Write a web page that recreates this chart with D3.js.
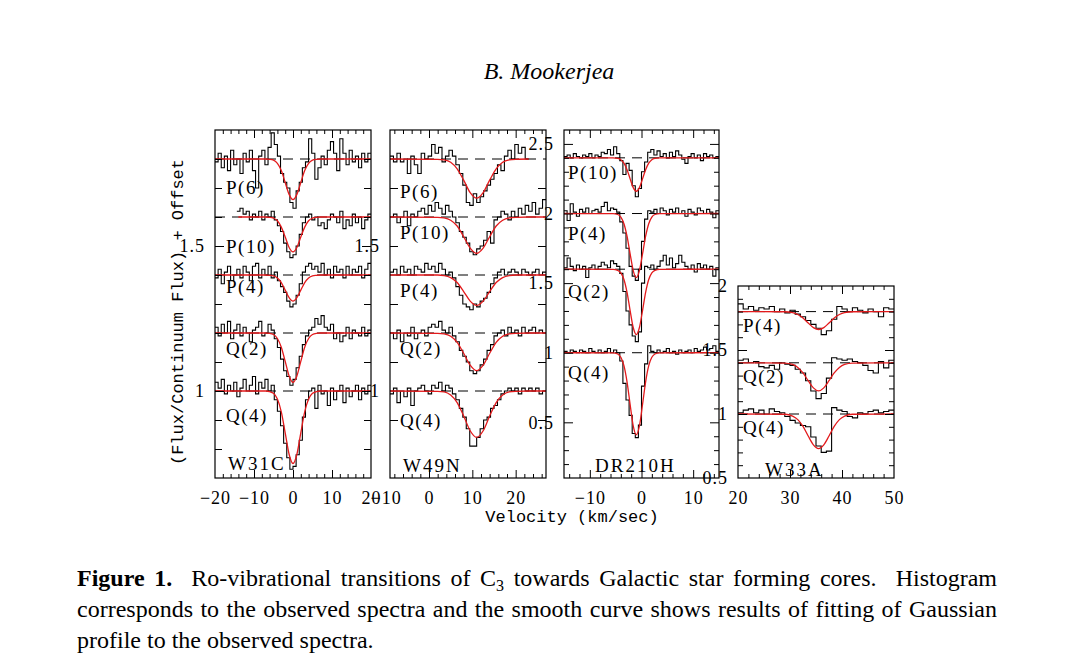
<!DOCTYPE html>
<html>
<head>
<meta charset="utf-8">
<script src="https://cdn.jsdelivr.net/npm/d3@7/dist/d3.min.js"></script>
<style>
  body { margin: 0; background: #fff; }
  svg { display: block; }
</style>
</head>
<body>
<div class="figure"></div>
<script>
// ---- data (spectra in hundredths of flux relative to each offset line) ----
const panelNames = ["W31C", "W49N", "DR210H", "W33A"];

const w31cLines = ["P(6)", "P(10)", "P(4)", "Q(2)", "Q(4)"];
const w31cOffset = [1.8, 1.6, 1.4, 1.2, 1.0];
const w31cVel0 = -20, w31cDv = 0.8;
const w31cSpec = [
    [-1,2,-3,1,-4,3,-2,0,-5,2, -1,3,-4,-10,1,3,-2,4,9,5, 1,-5,-8,-10,-15,-17,-11,-8,-3,-1, 7,2,-7,-3,1,-2,3,6,2,-4, 7,2,-2,3,-1,1,-3,2,-1,2],
    [null,null,null,null,null,null,null,2,3,1, 2,-1,1,0,2,-1,1,0,2,-1, -3,-5,-9,-12,-14,-13,-10,-6,-2,0, 1,-1,0,-3,-2,-4,-1,1,0,-2, 2,-4,-1,-3,1,-2,0,-4,-1,1],
    [-1,2,-3,1,3,-2,0,2,-1,3, 1,-2,3,4,-1,2,0,3,-1,1, -2,-4,-6,-9,-11,-10,-7,-3,1,3, 4,2,3,1,4,0,2,-1,3,1, 2,-1,3,0,2,1,3,-1,2,4],
    [2,-1,3,0,4,-2,1,3,-1,2, 0,-3,1,2,4,-1,0,3,1,-2, -5,-9,-13,-15,-18,-16,-12,-8,-4,-1, 1,2,5,3,6,2,1,3,-2,0, -3,-1,2,-2,1,0,-1,2,-1,1],
    [3,1,4,-1,2,0,3,-2,1,4, 0,2,5,-1,3,1,4,0,2,-3, -7,-12,-18,-23,-27,-26,-22,-17,-9,-3, 0,1,-6,2,-1,0,-5,1,-3,0, 2,-4,1,-2,0,2,-3,1,-1,2]
];
const w31cFitVel = [-20,-14,-7,-6,-5,-4,-3,-2,-1,0,1,2,3,4,5,6,7,20];
const w31cFit = [
    [0,0,0,-0.1,-0.4,-1.5,-4.0,-8.1,-12.2,-14,-12.2,-8.1,-4.0,-1.5,-0.4,-0.1,0,0],
    [null,0,0,-0.1,-0.4,-1.3,-3.5,-6.9,-10.5,-12,-10.5,-6.9,-3.5,-1.3,-0.4,-0.1,0,0],
    [0,0,0,-0.1,-0.3,-1.0,-2.6,-5.2,-7.8,-9,-7.8,-5.2,-2.6,-1.0,-0.3,-0.1,0,0],
    [0,0,0,-0.1,-0.5,-1.9,-4.9,-9.8,-14.8,-17,-14.8,-9.8,-4.9,-1.9,-0.5,-0.1,0,0],
    [0,0,0,-0.2,-0.8,-2.8,-7.2,-14.4,-21.8,-25,-21.8,-14.4,-7.2,-2.8,-0.8,-0.2,0,0]
];
const w31cXLabels = [-20, -10, 0, 10, 20];
const w31cYLabels = [1, 1.5];

const w49nLines = ["P(6)", "P(10)", "P(4)", "Q(2)", "Q(4)"];
const w49nOffset = [1.8, 1.6, 1.4, 1.2, 1.0];
const w49nVel0 = -9, w49nDv = 0.8;
const w49nSpec = [
    [1,-1,2,-1,0,-5,1,-2,-5,2, 0,1,5,2,4,-1,1,3,1,-2, -5,-9,-15,-16,-12,-15,-13,-11,-9,-7, -5,-2,-4,1,3,0,5,2,4,0, null,null,null,null,null],
    [0,1,-2,0,2,-3,1,0,2,3, 1,4,2,5,3,1,4,2,0,-2, -5,-7,-9,-12,-13,-11,-10,-8,-5,-9, -1,0,2,1,-1,2,0,3,1,4, 2,5,1,3,6],
    [1,2,0,3,1,2,0,3,2,1, 4,2,3,1,4,2,0,1,-1,-4, -7,-10,-11,-12,-10,-11,-9,-8,-6,-3, -1,1,2,0,1,2,1,0,2,1, 0,1,2,0,1],
    [0,-2,1,-3,0,-1,2,-2,0,1, -1,2,3,2,4,1,0,2,-1,-3, -6,-8,-10,-13,-14,-13,-11,-9,-6,-4, -1,0,1,-1,2,0,1,-1,2,0, 1,2,0,1,0],
    [-1,1,-4,0,-2,1,-5,0,1,2, 0,-1,2,1,3,0,2,1,-1,-3, -6,-9,-13,-19,-19,-16,-13,-10,-9,-6, -5,-3,-1,0,1,0,1,-1,1,0, 1,0,1,-1,0]
];
const w49nFitVel = [-9,2,3.5,5,6.5,8,9.5,11,12.5,14,15.5,17,18.5,20,23,27];
const w49nFit = [
    [0,-0.1,-0.3,-1.1,-3.4,-7.3,-11.6,-13.5,-11.6,-7.3,-3.4,-1.1,-0.3,-0.1,0,null],
    [0,-0.1,-0.3,-1.1,-3.1,-6.8,-10.7,-12.5,-10.7,-6.8,-3.1,-1.1,-0.3,-0.1,0,0],
    [0,0,-0.2,-0.9,-2.6,-5.7,-9.0,-10.5,-9.0,-5.7,-2.6,-0.9,-0.2,0,0,0],
    [0,-0.1,-0.3,-1.1,-3.2,-7.0,-11.1,-13,-11.1,-7.0,-3.2,-1.1,-0.3,-0.1,0,0],
    [0,-0.1,-0.3,-1.4,-4.0,-8.6,-13.7,-16,-13.7,-8.6,-4.0,-1.4,-0.3,-0.1,0,0]
];
const w49nXLabels = [-10, 0, 10, 20];
const w49nYLabels = [1, 1.5];

const dr210hLines = ["P(10)", "P(4)", "Q(2)", "Q(4)"];
const dr210hOffset = [2.4, 2.0, 1.6, 1.0];
const dr210hVel0 = -15, dr210hDv = 0.6;
const dr210hSpec = [
    [1,2,0,3,1,0,2,1,3,0, 2,1,4,3,6,2,8,3,-2,-12, -4,-9,-20,-28,-22,-10,-3,4,6,2, 5,1,3,0,4,1,5,2,-1,-4, 1,3,0,2,-2,3,1,2,0,1],
    [2,-5,7,1,-2,3,1,4,0,2, 3,1,5,8,2,4,3,1,-6,-14, -25,-38,-45,-48,-40,-20,-4,2,1,3, 0,4,2,-1,3,1,4,0,2,-2, 3,1,-1,4,2,0,3,1,-3,2],
    [1,8,2,-1,3,0,2,-6,1,3, 0,2,5,3,1,6,4,2,-3,-16, -30,-40,-48,-52,-45,-10,2,1,3,0, 2,6,10,3,8,1,4,10,5,2, 0,3,-2,4,1,3,0,2,-5,1],
    [1,0,2,1,0,2,1,0,3,1, 0,2,0,1,3,0,2,0,-6,-22, -34,-45,-58,-61,-52,-24,-8,5,1,0, 2,0,1,3,0,1,-1,2,0,1, 2,0,3,1,2,4,2,3,5,1]
];
const dr210hFitVel = [-15,-5.5,-4.6,-4,-3.4,-2.8,-2.2,-1.6,-1,-0.4,0.2,0.8,1.4,2,2.6,3.5,15];
const dr210hFit = [
    [0,0,-0.4,-1.3,-3.8,-8.5,-15.1,-21.4,-24,-21.4,-15.1,-8.5,-3.8,-1.3,-0.4,0,0],
    [0,-0.1,-0.7,-2.6,-7.3,-16.3,-29.0,-41.0,-46,-41.0,-29.0,-16.3,-7.3,-2.6,-0.7,-0.1,0],
    [0,-0.1,-0.8,-2.6,-7.4,-16.6,-29.7,-41.9,-47,-41.9,-29.7,-16.6,-7.4,-2.6,-0.8,-0.1,0],
    [0,-0.1,-0.9,-3.3,-9.3,-20.9,-37.2,-52.6,-59,-52.6,-37.2,-20.9,-9.3,-3.3,-0.9,-0.1,0]
];
const dr210hXLabels = [-10, 0, 10];
const dr210hYLabels = [0.5, 1, 1.5, 2, 2.5];

const w33aLines = ["P(4)", "Q(2)", "Q(4)"];
const w33aOffset = [1.8, 1.4, 1.0];
const w33aVel0 = 20, w33aDv = 1.0;
const w33aSpec = [
    [6,2,4,1,3,2,4,0,2,-1, 1,-2,-4,-7,-10,-13,-18,-15,-6,4, 2,0,3,1,-1,2,0,-4,3,2],
    [2,3,0,1,-3,-4,-2,-5,0,-1, -2,-5,-8,-14,-22,-28,-24,-12,4,3, 2,3,1,0,-2,-6,-8,1,-4,2],
    [1,3,4,1,3,0,4,2,1,-2, -5,-7,-9,-10,-18,-25,-30,-29,5,3, 2,-2,-3,1,0,2,3,1,2,3]
];
const w33aFitVel = [20,29,30.5,31.5,32.5,33.5,34.5,35.5,36.5,37.5,38.5,39.5,40.5,42,50];
const w33aFit = [
    [0,-0.1,-0.8,-2.3,-5.0,-8.9,-12.5,-14,-12.5,-8.9,-5.0,-2.3,-0.8,-0.1,0],
    [0,-0.2,-1.3,-3.6,-7.9,-14.0,-19.6,-22,-19.6,-14.0,-7.9,-3.6,-1.3,-0.2,0],
    [0,-0.2,-1.6,-4.4,-9.7,-17.2,-24.1,-27,-24.1,-17.2,-9.7,-4.4,-1.6,-0.2,0]
];
const w33aXLabels = [20, 30, 40, 50];
const w33aYLabels = [0.5, 1, 1.5, 2];

const captionLines = [
    "corresponds to the observed spectra and the smooth curve shows results of fitting of Gaussian",
    "profile to the observed spectra."
];

// ---- layout ----
const width = 1074, height = 669;
const serif = "'Liberation Serif', 'Times New Roman', serif";
const mono = "'Liberation Mono', 'Courier New', monospace";

const layout = [
    { x0: 215, x1: 371, y0: 130, y1: 478, xd: [-20, 20], yd: [0.7, 1.9],
      yMinor: 0.1, yMajorStep: 0.5, yMinorLen: 7, labDx: 11, labDy: [28, 29, 11, 15, 24], nameDx: 13, nameDy: 15 },
    { x0: 390, x1: 546, y0: 130, y1: 478, xd: [-9, 27], yd: [0.7, 1.9],
      yMinor: 0.2, yStart: 0.9, yMajorStep: null, yMinorLen: 8, labDx: 10, labDy: [32, 15, 15, 15, 29], nameDx: 13, nameDy: 13 },
    { x0: 564, x1: 719, y0: 130, y1: 478, xd: [-15, 15], yd: [0.1, 2.6],
      yMinor: 0.1, yMajorStep: 0.5, yMinorLen: 5, labDx: 4, labDy: [15, 20, 22, 20], nameDx: 31, nameDy: 13 },
    { x0: 738, x1: 894, y0: 286, y1: 478, xd: [20, 50], yd: [0.5, 2.0],
      yMinor: 0.1, yMajorStep: 0.5, yMinorLen: 5, labDx: 5, labDy: [14, 14, 13], nameDx: 27, nameDy: 9 }
];

const panels = [
    { lines: w31cLines, offset: w31cOffset, vel0: w31cVel0, dv: w31cDv, spec: w31cSpec, fitVel: w31cFitVel, fit: w31cFit, xLabels: w31cXLabels, yLabels: w31cYLabels },
    { lines: w49nLines, offset: w49nOffset, vel0: w49nVel0, dv: w49nDv, spec: w49nSpec, fitVel: w49nFitVel, fit: w49nFit, xLabels: w49nXLabels, yLabels: w49nYLabels },
    { lines: dr210hLines, offset: dr210hOffset, vel0: dr210hVel0, dv: dr210hDv, spec: dr210hSpec, fitVel: dr210hFitVel, fit: dr210hFit, xLabels: dr210hXLabels, yLabels: dr210hYLabels },
    { lines: w33aLines, offset: w33aOffset, vel0: w33aVel0, dv: w33aDv, spec: w33aSpec, fitVel: w33aFitVel, fit: w33aFit, xLabels: w33aXLabels, yLabels: w33aYLabels }
];

const svg = d3.select(".figure")
    .append("svg")
    .attr("width", width)
    .attr("height", height);

svg.append("rect").attr("width", width).attr("height", height).attr("fill", "#fff");

const defs = svg.append("defs");
const fmt = d3.format("~g");

function tickAxis(g, axisFn, scale, values, size, tx, ty) {
    g.append("g")
        .attr("transform", "translate(" + tx + "," + ty + ")")
        .call(axisFn(scale).tickValues(values).tickSize(size).tickFormat(""))
        .call(s => s.select(".domain").remove())
        .attr("color", "#000")
        .selectAll("line").attr("stroke-width", 1);
}

function drawPanel(p, L, idx) {
    const x = d3.scaleLinear().domain(L.xd).range([L.x0, L.x1]);
    const y = d3.scaleLinear().domain(L.yd).range([L.y1, L.y0]);
    const g = svg.append("g").attr("class", "panel");

    defs.append("clipPath").attr("id", "clip" + idx)
        .append("rect")
        .attr("x", L.x0).attr("y", L.y0)
        .attr("width", L.x1 - L.x0).attr("height", L.y1 - L.y0);

    const plot = g.append("g").attr("clip-path", "url(#clip" + idx + ")");

    // dashed continuum lines
    plot.selectAll(".base")
        .data(p.offset)
        .enter()
        .append("line")
        .attr("x1", L.x0).attr("x2", L.x1)
        .attr("y1", d => y(d)).attr("y2", d => y(d))
        .attr("stroke", "#000")
        .attr("stroke-width", 1)
        .attr("stroke-dasharray", "10,7");

    // histogram spectra
    p.spec.forEach((vals, r) => {
        const pts = [];
        vals.forEach((v, i) => {
            pts.push([p.vel0 + i * p.dv, v]);
            if (v !== null && (i === vals.length - 1 || vals[i + 1] === null)) {
                pts.push([p.vel0 + (i + 1) * p.dv, v]);
            }
        });
        const line = d3.line()
            .defined(d => d[1] !== null)
            .x(d => x(d[0]))
            .y(d => y(p.offset[r] + d[1] / 100))
            .curve(d3.curveStepAfter);
        plot.append("path")
            .attr("d", line(pts))
            .attr("fill", "none")
            .attr("stroke", "#000")
            .attr("stroke-width", 1.1);
    });

    // gaussian fits
    p.fit.forEach((vals, r) => {
        const line = d3.line()
            .defined(d => d[1] !== null)
            .x(d => x(d[0]))
            .y(d => y(p.offset[r] + d[1] / 100))
            .curve(d3.curveMonotoneX);
        plot.append("path")
            .attr("d", line(p.fitVel.map((v, i) => [v, vals[i]])))
            .attr("fill", "none")
            .attr("stroke", "#e31a1c")
            .attr("stroke-width", 1.3);
    });

    // frame
    g.append("rect")
        .attr("x", L.x0).attr("y", L.y0)
        .attr("width", L.x1 - L.x0).attr("height", L.y1 - L.y0)
        .attr("fill", "none")
        .attr("stroke", "#000")
        .attr("stroke-width", 1.2);

    // ticks on all four sides, pointing inward
    const lo = Math.ceil(L.xd[0] / 2) * 2, hi = Math.floor(L.xd[1] / 2) * 2;
    const xAll = d3.range(lo, hi + 0.001, 2).filter(v => v > L.xd[0] && v < L.xd[1]);
    const xMajor = xAll.filter(v => v % 10 === 0);
    const xMinor = xAll.filter(v => v % 10 !== 0);
    tickAxis(g, d3.axisBottom, x, xMajor, -8, 0, L.y1);
    tickAxis(g, d3.axisBottom, x, xMinor, -4, 0, L.y1);
    tickAxis(g, d3.axisTop, x, xMajor, -8, 0, L.y0);
    tickAxis(g, d3.axisTop, x, xMinor, -4, 0, L.y0);

    const yStart = L.yStart !== undefined ? L.yStart : Math.ceil(L.yd[0] * 10 + 0.01) / 10;
    const yAll = d3.range(yStart, L.yd[1] - 0.01, L.yMinor).map(v => Math.round(v * 10) / 10);
    const isMajor = v => L.yMajorStep && Math.abs(v / L.yMajorStep - Math.round(v / L.yMajorStep)) < 1e-6;
    const yMajor = yAll.filter(isMajor);
    const yMinor = yAll.filter(v => !isMajor(v));
    tickAxis(g, d3.axisLeft, y, yMajor, -9, L.x0, 0);
    tickAxis(g, d3.axisLeft, y, yMinor, -L.yMinorLen, L.x0, 0);
    tickAxis(g, d3.axisRight, y, yMajor, -9, L.x1, 0);
    tickAxis(g, d3.axisRight, y, yMinor, -L.yMinorLen, L.x1, 0);

    // tick labels
    g.append("g")
        .attr("transform", "translate(0," + L.y1 + ")")
        .call(d3.axisBottom(x).tickValues(p.xLabels).tickSize(0).tickPadding(13).tickFormat(fmt))
        .call(s => s.select(".domain").remove())
        .attr("font-family", serif)
        .attr("font-size", 18)
        .attr("letter-spacing", 1)
        .attr("color", "#000");

    g.append("g")
        .attr("transform", "translate(" + L.x0 + ",0)")
        .call(d3.axisLeft(y).tickValues(p.yLabels).tickSize(0).tickPadding(10).tickFormat(fmt))
        .call(s => s.select(".domain").remove())
        .attr("font-family", serif)
        .attr("font-size", 18)
        .attr("letter-spacing", 1)
        .attr("color", "#000");

    // transition labels
    g.selectAll(".lineLabel")
        .data(p.lines)
        .enter()
        .append("text")
        .attr("x", L.x0 + L.labDx)
        .attr("y", (d, i) => y(p.offset[i]) + L.labDy[i])
        .attr("dominant-baseline", "central")
        .attr("font-family", serif)
        .attr("font-size", 19)
        .attr("letter-spacing", 1.5)
        .text(d => d);

    // source name
    g.append("text")
        .attr("x", L.x0 + L.nameDx)
        .attr("y", L.y1 - L.nameDy)
        .attr("dominant-baseline", "central")
        .attr("font-family", serif)
        .attr("font-size", 19)
        .attr("letter-spacing", 2)
        .text(panelNames[idx]);
}

panels.forEach((p, i) => drawPanel(p, layout[i], i));

// axis titles
svg.append("text")
    .attr("x", 572)
    .attr("y", 522)
    .attr("text-anchor", "middle")
    .attr("font-family", mono)
    .attr("font-size", 17)
    .text("Velocity (km/sec)");

svg.append("text")
    .attr("transform", "translate(183,312) rotate(-90)")
    .attr("text-anchor", "middle")
    .attr("font-family", mono)
    .attr("font-size", 17)
    .text("(Flux/Continuum Flux) + Offset");

// running head
svg.append("text")
    .attr("x", 549)
    .attr("y", 79)
    .attr("text-anchor", "middle")
    .attr("font-family", serif)
    .attr("font-style", "italic")
    .attr("font-size", 24)
    .text("B. Mookerjea");

// caption, justified by widening the word gaps
const capLeft = 77, capWidth = 920, capSize = 24;

function justify(sel) {
    const node = sel.node();
    const natural = node.getComputedTextLength();
    const gaps = (node.textContent.match(/[ \u00a0]/g) || []).length;
    if (gaps > 0) sel.attr("word-spacing", (capWidth - natural) / gaps);
}

const cap1 = svg.append("text")
    .attr("x", capLeft)
    .attr("y", 586)
    .attr("font-family", serif)
    .attr("font-size", capSize);
cap1.append("tspan").attr("font-weight", "bold").text("Figure 1.");
cap1.append("tspan").text("\u00a0 Ro-vibrational transitions of C");
cap1.append("tspan").attr("font-size", 16).attr("dy", 5).text("3");
cap1.append("tspan").attr("dy", -5).text(" towards Galactic star forming cores.\u00a0 Histogram");
justify(cap1);

const cap2 = svg.append("text")
    .attr("x", capLeft)
    .attr("y", 617)
    .attr("font-family", serif)
    .attr("font-size", capSize)
    .text(captionLines[0]);
justify(cap2);

svg.append("text")
    .attr("x", capLeft)
    .attr("y", 648)
    .attr("font-family", serif)
    .attr("font-size", capSize)
    .text(captionLines[1]);
</script>
</body>
</html>
